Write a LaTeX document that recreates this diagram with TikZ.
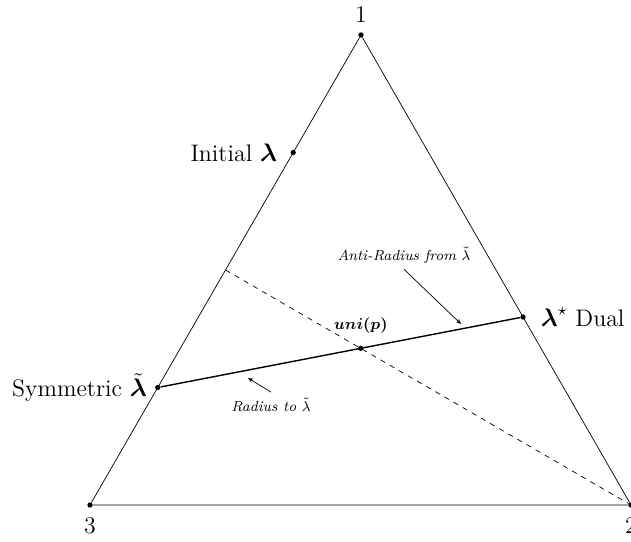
\documentclass[tikz,border=0pt]{standalone}
\usepackage{amsmath}
\usepackage{amssymb}
\usepackage{tikz}
\usetikzlibrary{arrows.meta,positioning,calc}

\begin{document}
\begin{tikzpicture}[
  x=0.02cm, y=0.02cm,
  >={Stealth[length=3pt,width=2.5pt]},
  every node/.style={font=\fontsize{13.6}{16}\selectfont},
  dot/.style={circle, fill=black, inner sep=0pt, minimum size=3pt},
  edge/.style={thin},
  median/.style={thin, dashed},
  radius/.style={thick},
  note/.style={font=\fontsize{8.3}{10}\selectfont\itshape},
  pointer/.style={->, thin}
]
  \useasboundingbox (0,0) rectangle (631,541);

  % simplex corners
  \node[dot] (v1) at (361,506) {};
  \node[dot] (v2) at (631,36) {};
  \node[dot] (v3) at (90,36) {};
  \node[above=2pt of v1] (lab1) {1};
  \node[below=2pt of v2] (lab2) {2};
  \node[below=2pt of v3] (lab3) {3};

  % points on the edges
  \node[dot] (init) at ($(v1)!0.25!(v3)$) {};
  \node[dot] (sym) at ($(v1)!0.75!(v3)$) {};
  \node[dot] (dual) at ($(v1)!0.6!(v2)$) {};
  \coordinate (mid) at ($(v1)!0.5!(v3)$);
  \node[dot] (uni) at ($1/3*(v1)+1/3*(v2)+1/3*(v3)$) {};

  \draw[edge] (v1) -- (v2) -- (v3) -- (v1);
  \draw[median] (mid) -- (v2);
  \draw[radius] (sym) -- (dual);

  \node[left=4pt of init] (initlab) {Initial $\boldsymbol{\lambda}$};
  \node[left=1pt of sym] (symlab) {Symmetric $\tilde{\boldsymbol{\lambda}}$};
  \node[right=5pt of dual] (duallab) {$\boldsymbol{\lambda}^{\star}$ Dual};
  \node[above=3pt of uni, font=\fontsize{9.5}{11}\selectfont] (unilab) {$\boldsymbol{uni(p)}$};

  % pointers to the radius line
  \node[note] (anti) at (404,286) {Anti-Radius from $\tilde{\lambda}$};
  \coordinate (antitip) at (461,217);
  \draw[pointer] (anti.south) -- (antitip);
  \node[note] (rad) at (271,136) {Radius to $\tilde{\lambda}$};
  \coordinate (radtip) at (248,163);
  \draw[pointer] (rad.north) -- (radtip);
\end{tikzpicture}
\end{document}
